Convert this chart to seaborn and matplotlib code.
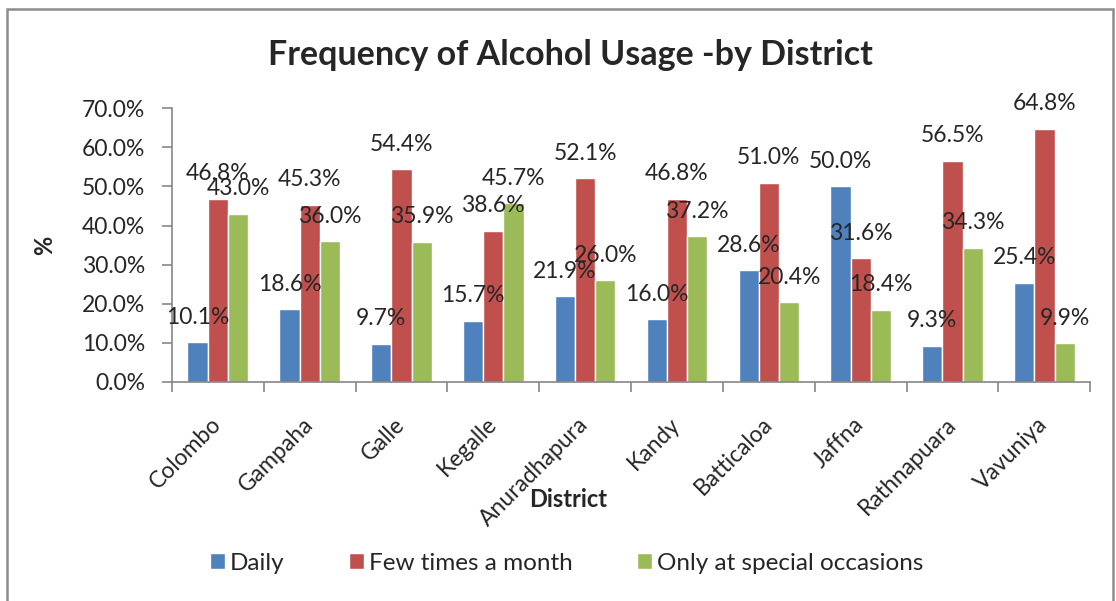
import numpy as np
import pandas as pd
import matplotlib
matplotlib.use("Agg")
import matplotlib.pyplot as plt
import seaborn as sns
from matplotlib.patches import Rectangle
from matplotlib.ticker import FixedLocator, FuncFormatter

# ============================================
# Data (in %)
# ============================================
districts = ["Colombo", "Gampaha", "Galle", "Kegalle", "Anuradhapura",
             "Kandy", "Batticaloa", "Jaffna", "Rathnapuara", "Vavuniya"]
series_names = ["Daily", "Few times a month", "Only at special occasions"]
daily = [10.1, 18.6, 9.7, 15.7, 21.9, 16.0, 28.6, 50.0, 9.3, 25.4]
few_times = [46.8, 45.3, 54.4, 38.6, 52.1, 46.8, 51.0, 31.6, 56.5, 64.8]
special = [43.0, 36.0, 35.9, 45.7, 26.0, 37.2, 20.4, 18.4, 34.3, 9.9]
colors = ["#4F81BD", "#C0504D", "#9BBB59"]

df = pd.DataFrame({"District": districts,
                   series_names[0]: daily,
                   series_names[1]: few_times,
                   series_names[2]: special})
df_long = df.melt(id_vars="District", var_name="Frequency", value_name="pct")

# ============================================
# Plot
# ============================================
sns.set_style("white")
plt.rcParams["font.family"] = ["Lato", "DejaVu Sans"]

fig = plt.figure(figsize=(11.16, 6.01), dpi=100)
ax = fig.add_axes([0.154, 0.3644, 0.823, 0.4556])

sns.barplot(data=df_long, x="District", y="pct", hue="Frequency",
            order=districts, hue_order=series_names, palette=colors,
            width=0.66, saturation=1, errorbar=None, ax=ax, legend=False)

for cont in ax.containers:
    ax.bar_label(cont, fmt="{:.1f}%", padding=10.5, fontsize=16.5)

# axes styling (Excel look)
ax.set_ylim(0, 70)
ax.set_xlim(-0.5, len(districts) - 0.5)
ax.yaxis.set_major_locator(FixedLocator(np.arange(0, 71, 10)))
ax.yaxis.set_major_formatter(FuncFormatter(lambda v, p: f"{v:.1f}%"))
ax.tick_params(axis="y", labelsize=16.5, length=7, width=1.2, color="#868686",
               left=True, pad=12)
ax.set_xticks(range(len(districts)))
ax.set_xticklabels(districts, rotation=45, ha="right", va="center",
                   rotation_mode="anchor", fontsize=16.5)
ax.tick_params(axis="x", length=0, pad=28)
ax.set_xticks(np.arange(-0.5, len(districts), 1), minor=True)
ax.tick_params(axis="x", which="minor", length=7, width=1.2, color="#868686",
               bottom=True)

for side in ["top", "right"]:
    ax.spines[side].set_visible(False)
for side in ["left", "bottom"]:
    ax.spines[side].set_color("#868686")
    ax.spines[side].set_linewidth(1.2)

ax.set_xlabel("District", fontsize=17, fontweight="bold")
ax.xaxis.set_label_coords(0.431, -0.43)
ax.xaxis.label.set_va("center")
ax.set_ylabel("%", fontsize=17, fontweight="bold")
ax.yaxis.set_label_coords(-0.138, 0.5)
ax.yaxis.label.set_va("center")

fig.text(0.511, 0.908, "Frequency of Alcohol Usage -by District",
         ha="center", va="center", fontsize=24.5, fontweight="bold")

# legend
handles = [Rectangle((0, 0), 1, 1, facecolor=c) for c in colors]
fig.legend(handles, series_names, loc="center", bbox_to_anchor=(0.508, 0.063),
           ncol=3, frameon=False, fontsize=17.5, handlelength=0.62,
           handleheight=0.62, handletextpad=0.2, columnspacing=2.65)

# outer chart border
fig.patches.append(Rectangle((7 / 1116, -0.05), 1106 / 1116, 1.035,
                             transform=fig.transFigure, fill=False,
                             edgecolor="#8c8c8c", linewidth=1.8))

fig.savefig("out.png", dpi=100)
